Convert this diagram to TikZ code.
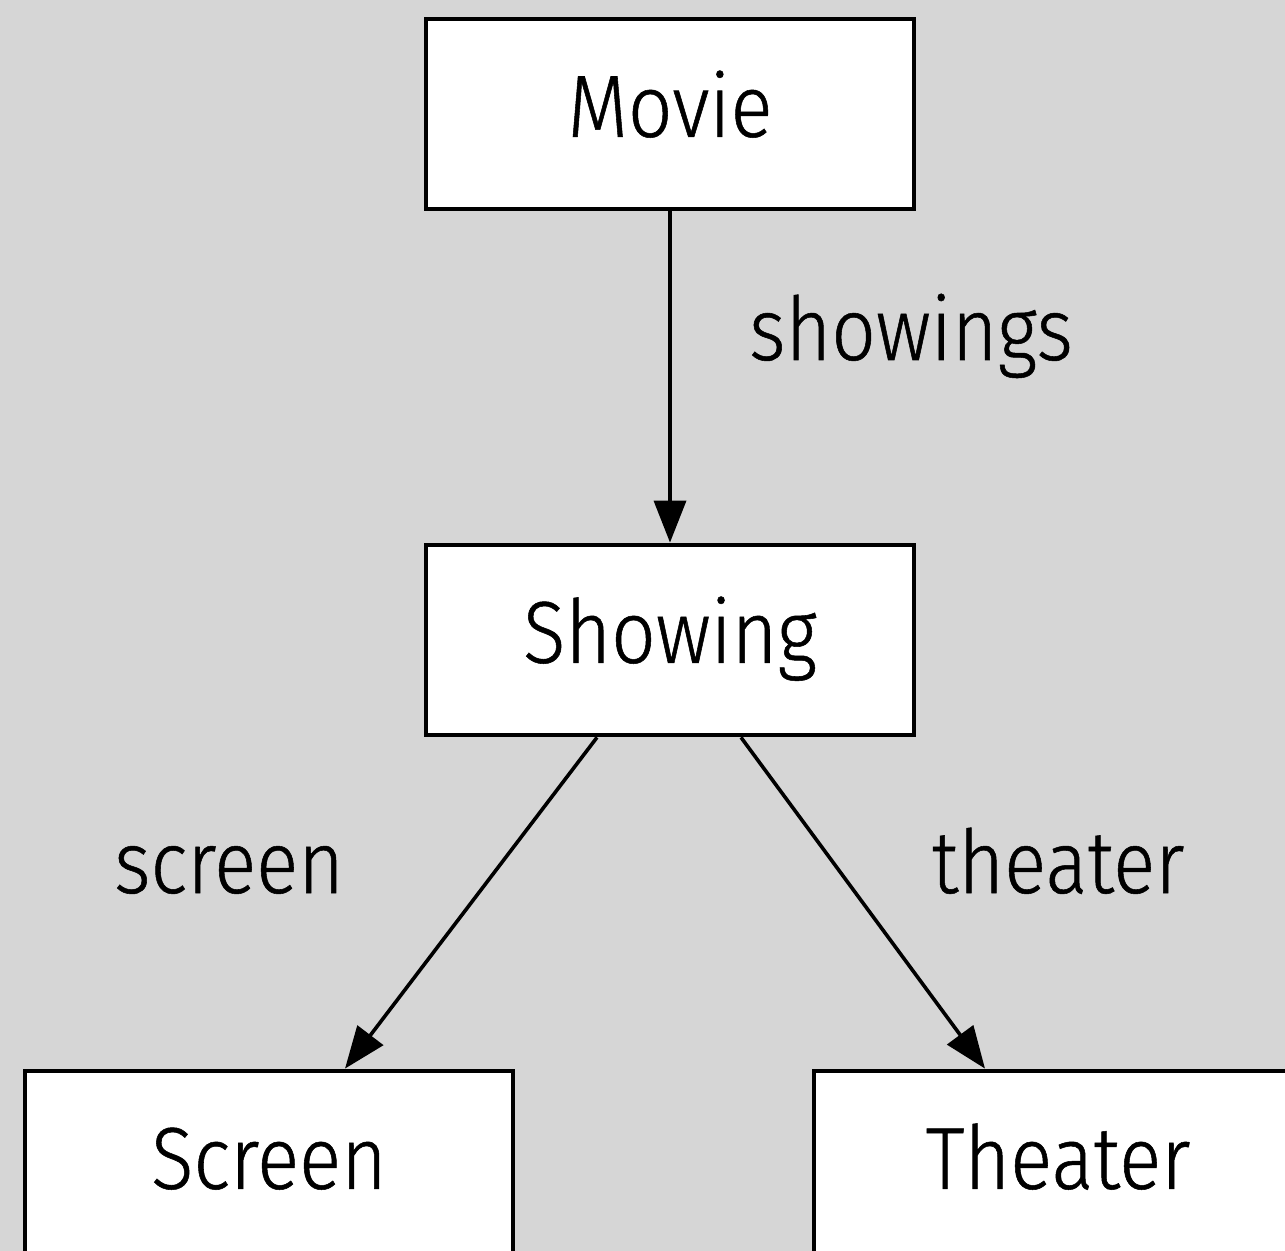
\documentclass[tikz,border=0pt]{standalone}
\usepackage{fontspec}
\setmainfont{Fira Sans}[UprightFont=* Light, FakeStretch=0.89, FakeBold=0.6]
\usetikzlibrary{arrows.meta}
\definecolor{canvas}{HTML}{D6D6D6}
\tikzset{
  entity/.style={draw=black, line width=2.4pt, fill=white, minimum width=244pt,
    minimum height=95pt, inner sep=0pt, text height=30.3pt, text depth=7.5pt,
    font=\fontsize{44}{50}\selectfont},
  relation/.style={line width=1.8pt, -{Triangle[length=21pt,width=16pt]}},
  rolelabel/.style={font=\fontsize{44}{50}\selectfont, anchor=base}
}
\begin{document}
\begin{tikzpicture}[x=0.5pt,y=-0.5pt]
  \fill[canvas] (0,0) rectangle (1285,1251);
  \useasboundingbox (0,0) rectangle (1285,1251);

  \node[entity] (movie)   at (670,114)  {Movie};
  \node[entity] (showing) at (670,640)  {Showing};
  \node[entity] (screen)  at (269,1166) {Screen};
  \node[entity] (theater) at (1058,1166) {Theater};

  \draw[relation] (movie.south) -- (showing.north);
  \draw[relation] ([xshift=-36.5pt]showing.south) -- ([xshift=38pt]screen.north);
  \draw[relation] ([xshift=35.5pt]showing.south) -- ([xshift=-36.5pt]theater.north);

  \node[rolelabel] (lshow)   at (911,360)  {showings};
  \node[rolelabel] (lscreen) at (229,893)  {screen};
  \node[rolelabel] (ltheat)  at (1058,893) {theater};
\end{tikzpicture}
\end{document}
